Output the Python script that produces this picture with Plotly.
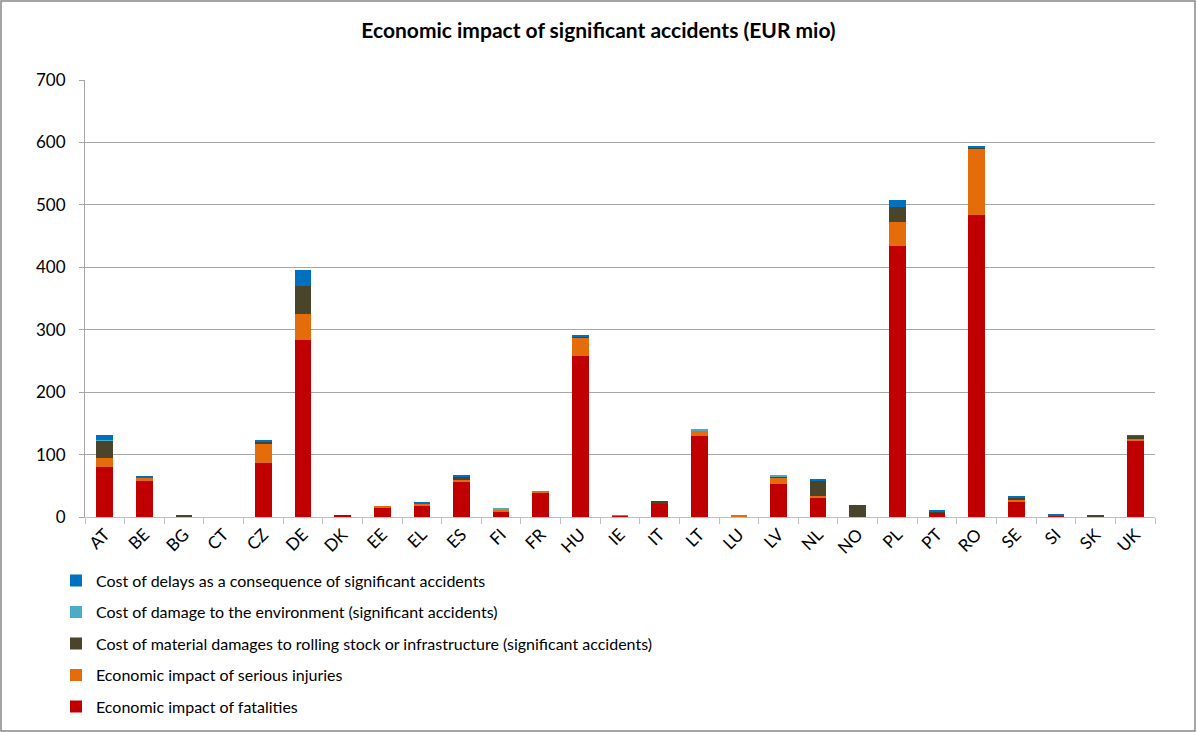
import plotly.graph_objects as go

countries = ["AT","BE","BG","CT","CZ","DE","DK","EE","EL","ES","FI","FR","HU","IE","IT",
             "LT","LU","LV","NL","NO","PL","PT","RO","SE","SI","SK","UK"]
fatalities = [80,58,0,0,87,284,3,15,19,57,9,38,258,2,21,130,0,53,31,0,434,7,484,25,2,0,122]
injuries   = [15,6,0,0,30,41,0,1.5,3,3,3,4,30,0.5,1,8,2,11,2,0,38,0,106,3,0,0,3]
material   = [28,0,2,0,4,45,0,0,0,4,0,0,1,0,3,1,0,1,25,19,25,1.5,2,4,0,2,5]
environment= [1,0,0,0,0,0,0,0,0,0,1.5,0,0,0,0,1,0,1,0,0,0,0,0,0,0,0,0]
delays     = [7,1,0,0,2,26,0,0,2.5,4,0,0,2,0,0,0,0,0,1.5,0,11,1.5,1,1.5,3,0,1]

series = [
    ("Economic impact of fatalities", fatalities, "#C00000"),
    ("Economic impact of serious injuries", injuries, "#E46C0A"),
    ("Cost of material damages to rolling stock or infrastructure (significant accidents)", material, "#4A452A"),
    ("Cost of damage to the environment (significant accidents)", environment, "#4BACC6"),
    ("Cost of delays as a consequence of significant accidents", delays, "#0070C0"),
]

fig = go.Figure()
n = len(series)
for i, (name, vals, col) in enumerate(series):
    fig.add_trace(go.Bar(x=countries, y=vals, name=name, marker_color=col,
                         marker_line_width=0, legendgroup=str(i), legendrank=n - i))

W, H = 1197, 732
ML, MR, MT, MB = 40, 42, 80, 0
PW, PH = W - ML - MR, H - MT - MB
def px(x):
    return (x - ML) / PW
def py(y):
    return (H - MB - y) / PH

FONT = "Lato, Calibri, Carlito, sans-serif"
fig.update_layout(
    barmode="stack",
    bargap=0.58,
    width=W, height=H,
    margin=dict(l=ML, r=MR, t=MT, b=MB, autoexpand=False),
    paper_bgcolor="white", plot_bgcolor="white",
    font=dict(family=FONT, size=16, color="#000000"),
    title=dict(text="<b>Economic impact of significant accidents (EUR mio)</b>",
               x=0.5, xanchor="center", xref="container", y=1 - 31 / H, yanchor="middle",
               yref="container",
               font=dict(family=FONT, size=21, color="#000000")),
    legend=dict(orientation="v", x=px(56), xanchor="left", y=py(563.5), yanchor="top",
                traceorder="grouped", tracegroupgap=7.7,
                font=dict(family=FONT, size=16, color="#000000"),
                itemwidth=30, bgcolor="rgba(0,0,0,0)"),
    xaxis=dict(domain=[px(85), px(1155)], tickangle=-45, showline=True, linecolor="#BFBFBF",
               linewidth=1, ticks="outside", tickson="boundaries", ticklen=6, tickcolor="#BFBFBF",
               showgrid=False, automargin=False, tickfont=dict(family=FONT, size=17)),
    yaxis=dict(domain=[py(517), py(80)], range=[0, 700], dtick=100, showgrid=True,
               gridcolor="#A6A6A6", gridwidth=1, automargin=False,
               showline=True, linecolor="#A6A6A6", linewidth=1, zeroline=False,
               ticks="outside", ticklen=5, tickcolor="#A6A6A6", ticklabelstandoff=10,
               tickfont=dict(family=FONT, size=17)),
    shapes=[dict(type="rect", xref="paper", yref="paper",
                 x0=px(1), x1=px(1195), y0=py(731), y1=py(1),
                 line=dict(color="#868686", width=1.5), fillcolor="rgba(0,0,0,0)", layer="below")],
)

fig.write_html("out.html", config={"displayModeBar": False},
               post_script="document.body.style.margin='0px';document.body.style.overflow='hidden';")
